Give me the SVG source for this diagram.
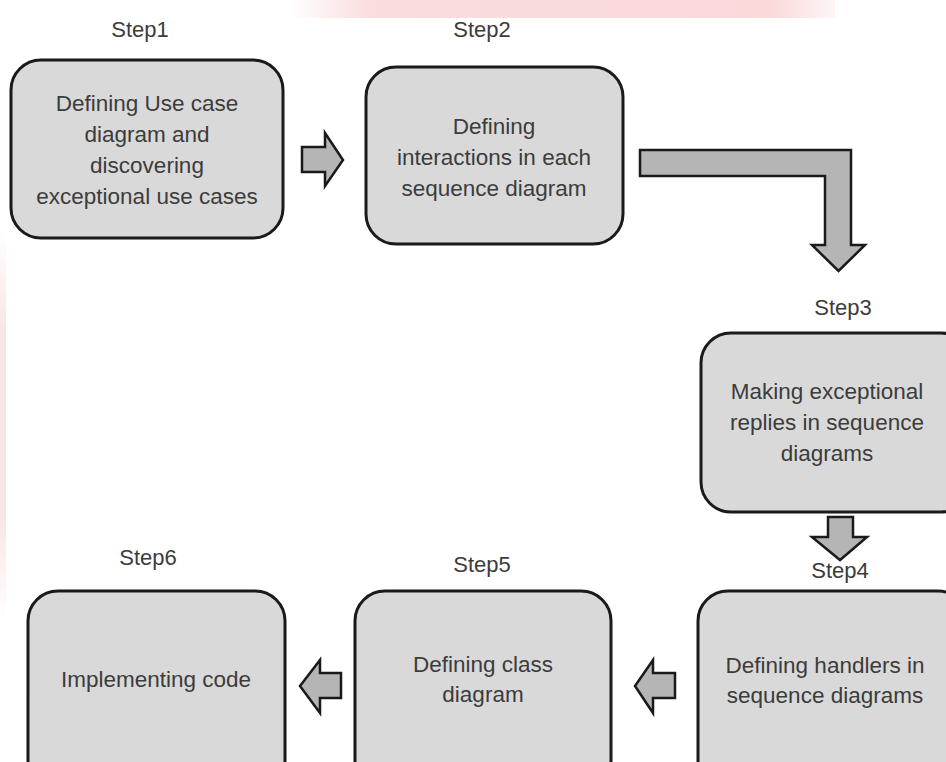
<svg xmlns="http://www.w3.org/2000/svg" width="946" height="762" viewBox="0 0 946 762">
  <defs>
    <linearGradient id="wm" x1="0" y1="0" x2="1" y2="0">
      <stop offset="0" stop-color="#f6c0c0" stop-opacity="0"/>
      <stop offset="0.15" stop-color="#f6c0c0" stop-opacity="0.55"/>
      <stop offset="0.88" stop-color="#f6c0c0" stop-opacity="0.6"/>
      <stop offset="1" stop-color="#f6c0c0" stop-opacity="0.15"/>
    </linearGradient>
    <linearGradient id="wmv" x1="0" y1="0" x2="0" y2="1">
      <stop offset="0" stop-color="#f6cccc" stop-opacity="0"/>
      <stop offset="0.25" stop-color="#f6cccc" stop-opacity="0.5"/>
      <stop offset="0.75" stop-color="#f6cccc" stop-opacity="0.5"/>
      <stop offset="1" stop-color="#f6cccc" stop-opacity="0"/>
    </linearGradient>
  </defs>
  <style>
    .box { fill: #d9d9d9; stroke: #1a1a1a; stroke-width: 3; }
    .arr { fill: #b5b5b5; stroke: #1a1a1a; stroke-width: 2.5; stroke-linejoin: miter; }
    .t { font-family: "Liberation Sans", Arial, sans-serif; font-size: 22.5px; fill: #3c3c3c; text-anchor: middle; }
    .s { font-family: "Liberation Sans", Arial, sans-serif; font-size: 22px; fill: #3c3c3c; text-anchor: middle; }
  </style>
  <rect width="946" height="762" fill="#ffffff"/>
  <!-- watermark traces -->
  <rect x="290" y="0" width="545" height="18" fill="url(#wm)"/>
  <rect x="0" y="230" width="6" height="390" fill="url(#wmv)"/>

  <g id="labels">
    <text class="s" x="140" y="37">Step1</text>
    <text class="s" x="482" y="37">Step2</text>
    <text class="s" x="843" y="315">Step3</text>
    <text class="s" x="840" y="578">Step4</text>
    <text class="s" x="482" y="572">Step5</text>
    <text class="s" x="148" y="565">Step6</text>
  </g>

  <g id="connectors">
    <path class="arr" d="M302,147 H325 V133 L343,160 L325,186 V172 H302 Z"/>
    <path class="arr" d="M640,150 H851 V245 H865 L838.5,271 L812,245 H825 V176 H640 Z"/>
    <path class="arr" d="M828,517 H853 V537 H867 L840,560 L812,537 H828 Z"/>
    <path class="arr" d="M675,673 V698 H653 V713 L635,686 L653,660 V673 Z"/>
    <path class="arr" d="M341,673 V698 H320 V713 L300,686 L320,660 V673 Z"/>
  </g>

  <g id="step1">
    <rect class="box" x="11" y="60" width="272" height="178" rx="30" ry="30"/>
    <text class="t" x="147" y="111">Defining Use case</text>
    <text class="t" x="147" y="142">diagram  and</text>
    <text class="t" x="147" y="173">discovering</text>
    <text class="t" x="147" y="204">exceptional use cases</text>
  </g>

  <g id="step2">
    <rect class="box" x="366" y="67" width="257" height="177" rx="30" ry="30"/>
    <text class="t" x="494" y="134">Defining</text>
    <text class="t" x="494" y="165">interactions in each</text>
    <text class="t" x="494" y="196">sequence diagram</text>
  </g>

  <g id="step3">
    <rect class="box" x="701" y="333" width="270" height="179" rx="30" ry="30"/>
    <text class="t" x="827" y="399">Making exceptional</text>
    <text class="t" x="827" y="430">replies in sequence</text>
    <text class="t" x="827" y="461">diagrams</text>
  </g>

  <g id="step4">
    <rect class="box" x="698" y="591" width="270" height="200" rx="30" ry="30"/>
    <text class="t" x="825" y="673">Defining handlers in</text>
    <text class="t" x="825" y="703">sequence diagrams</text>
  </g>

  <g id="step5">
    <rect class="box" x="355" y="591" width="256" height="200" rx="30" ry="30"/>
    <text class="t" x="483" y="672">Defining  class</text>
    <text class="t" x="483" y="702">diagram</text>
  </g>

  <g id="step6">
    <rect class="box" x="28" y="591" width="257" height="200" rx="30" ry="30"/>
    <text class="t" x="156" y="687">Implementing  code</text>
  </g>
</svg>
